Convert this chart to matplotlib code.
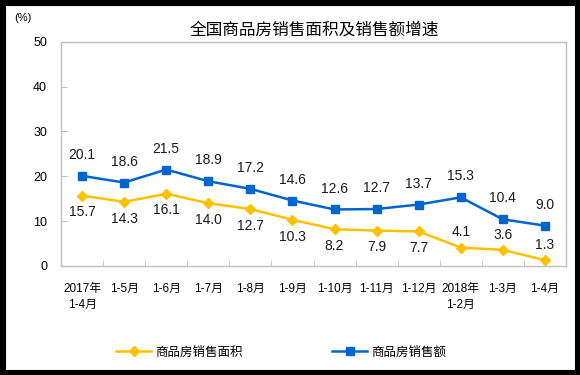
import matplotlib
matplotlib.use("Agg")
import matplotlib.pyplot as plt
from matplotlib.patches import Rectangle
import numpy as np

plt.rcParams['font.family'] = ['Liberation Sans', 'Noto Sans CJK SC', 'DejaVu Sans']

# 数据
categories = ["2017年\n1-4月", "1-5月", "1-6月", "1-7月", "1-8月", "1-9月",
              "1-10月", "1-11月", "1-12月", "2018年\n1-2月", "1-3月", "1-4月"]
area_growth = [15.7, 14.3, 16.1, 14.0, 12.7, 10.3, 8.2, 7.9, 7.7, 4.1, 3.6, 1.3]
sales_growth = [20.1, 18.6, 21.5, 18.9, 17.2, 14.6, 12.6, 12.7, 13.7, 15.3, 10.4, 9.0]
area_label_above = [False] * 9 + [True] * 3

yellow = "#FFC000"
blue = "#0066CC"
grey = "#BFBFBF"

fig = plt.figure(figsize=(5.8, 3.75), dpi=100)
ax = fig.add_axes([61 / 580, 1 - 266 / 375, 505 / 580, (266 - 41.7) / 375])

x = np.arange(len(categories))
ax.plot(x, area_growth, color=yellow, lw=1.8, marker="D", ms=5, label="商品房销售面积")
ax.plot(x, sales_growth, color=blue, lw=1.8, marker="s", ms=5.5, label="商品房销售额")

for xi, v in zip(x, sales_growth):
    ax.annotate(f"{v:.1f}", (xi, v), xytext=(0, 10), textcoords="offset points",
                ha="center", va="bottom", fontsize=10, color="#1a1a1a")
for xi, v, up in zip(x, area_growth, area_label_above):
    off = 6 if up else -7
    ax.annotate(f"{v:.1f}", (xi, v), xytext=(0, off), textcoords="offset points",
                ha="center", va="bottom" if up else "top", fontsize=10, color="#1a1a1a")

ax.set_xlim(-0.5, len(categories) - 0.5)
ax.set_ylim(0, 50)
ax.set_yticks([0, 10, 20, 30, 40, 50])
ax.set_xticks(x)
ax.set_xticklabels(categories, fontsize=8.5, linespacing=1.5)
ax.set_xticks(np.arange(0.5, len(categories) - 1, 1), minor=True)
ax.tick_params(axis="x", which="major", length=0, pad=12)
ax.tick_params(axis="x", which="minor", direction="in", length=4, color=grey)
ax.tick_params(axis="y", direction="in", length=4, color=grey, labelsize=9, pad=10)
for s in ax.spines.values():
    s.set_color(grey)
    s.set_linewidth(1)

fig.text(0.024, 1 - 18 / 375, "(%)", fontsize=8, va="center", ha="left")
fig.text(314 / 580, 1 - 30 / 375, "全国商品房销售面积及销售额增速", fontsize=12,
         ha="center", va="center", family=["Noto Sans CJK SC"])

fig.legend(loc="center", bbox_to_anchor=(281 / 580, 1 - 352 / 375), ncol=2, frameon=False,
           handlelength=2.8, columnspacing=7.2, handletextpad=0.3,
           prop={"family": ["Noto Sans CJK SC"], "size": 9})

fig.patches.append(Rectangle((0, 0), 1, 1, transform=fig.transFigure, fill=False,
                             edgecolor="black", linewidth=8, zorder=10))

fig.savefig("out.png", dpi=100)
